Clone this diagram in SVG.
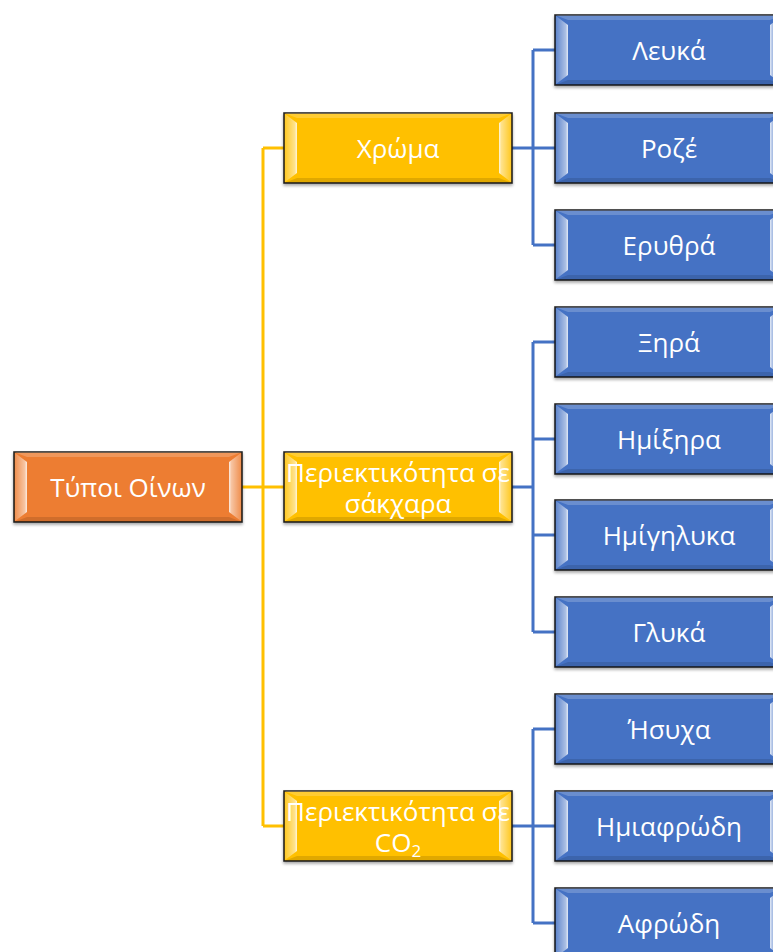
<svg xmlns="http://www.w3.org/2000/svg" xmlns:xlink="http://www.w3.org/1999/xlink" width="773" height="952" viewBox="0 0 773 952">
<style>
.box{stroke:#1a1a1a;stroke-width:1.5}
.root{fill:#ED7D31}
.mid{fill:#FFC000}
.leaf{fill:#4472C4}
.t{font-family:"Open Sans","Noto Sans","DejaVu Sans",sans-serif;font-size:26px;fill:#ffffff;text-anchor:middle;dominant-baseline:central}
.cy{stroke:#FFC000;stroke-width:3;fill:none}
.cb{stroke:#4472C4;stroke-width:3;fill:none}
</style>
<defs>
<linearGradient id="gl" x1="0" y1="0" x2="1" y2="0">
<stop offset="0" stop-color="#fff" stop-opacity="0.15"/>
<stop offset="0.8" stop-color="#fff" stop-opacity="0.55"/>
<stop offset="1" stop-color="#fff" stop-opacity="0.85"/>
</linearGradient>
<linearGradient id="gr" x1="1" y1="0" x2="0" y2="0">
<stop offset="0" stop-color="#fff" stop-opacity="0.15"/>
<stop offset="0.8" stop-color="#fff" stop-opacity="0.55"/>
<stop offset="1" stop-color="#fff" stop-opacity="0.85"/>
</linearGradient>
<g id="bevel">
<polygon points="0,0 228,0 215,5 13,5" fill="#fff" opacity="0.2"/>
<polygon points="0,70 228,70 215,65 13,65" fill="#000" opacity="0.12"/>
<polygon points="1,1 13,10 13,60 1,69" fill="url(#gl)"/>
<polygon points="227,1 215,10 215,60 227,69" fill="url(#gr)"/>
</g>
<filter id="sh" x="-5%" y="-10%" width="110%" height="130%">
<feDropShadow dx="0" dy="2" stdDeviation="1.5" flood-color="#000" flood-opacity="0.35"/>
</filter>
</defs>
<g id="connectors">
<path class="cy" d="M241,487H263M263,148V826M263,148H284M263,487H284M263,826H284"/>
<path class="cb" d="M512,148H533M533,50V245M533,50H555M533,148H555M533,245H555"/>
<path class="cb" d="M512,487H533M533,342V632M533,342H555M533,439H555M533,535H555M533,632H555"/>
<path class="cb" d="M512,826H533M533,729V923M533,729H555M533,826H555M533,923H555"/>
</g>
<g id="n-root" transform="translate(14,452)"><rect class="box root" width="228" height="70" filter="url(#sh)"/><use xlink:href="#bevel"/><text class="t" x="114" y="35">Τύποι Οίνων</text></g>
<g id="n-color" transform="translate(284,113)"><rect class="box mid" width="228" height="70" filter="url(#sh)"/><use xlink:href="#bevel"/><text class="t" x="114" y="35">Χρώμα</text></g>
<g id="n-sugar" transform="translate(284,452)"><rect class="box mid" width="228" height="70" filter="url(#sh)"/><use xlink:href="#bevel"/><text class="t" x="114" y="20"><tspan x="114" y="20">Περιεκτικότητα σε</tspan><tspan x="114" y="51">σάκχαρα</tspan></text></g>
<g id="n-co2" transform="translate(284,791)"><rect class="box mid" width="228" height="70" filter="url(#sh)"/><use xlink:href="#bevel"/><text class="t" x="114" y="20"><tspan x="114" y="20">Περιεκτικότητα σε</tspan><tspan x="114" y="51">CO</tspan><tspan font-size="17" dy="8">2</tspan></text></g>
<g id="n-white" transform="translate(555,15)"><rect class="box leaf" width="228" height="70" filter="url(#sh)"/><use xlink:href="#bevel"/><text class="t" x="114" y="35">Λευκά</text></g>
<g id="n-rose" transform="translate(555,113)"><rect class="box leaf" width="228" height="70" filter="url(#sh)"/><use xlink:href="#bevel"/><text class="t" x="114" y="35">Ροζέ</text></g>
<g id="n-red" transform="translate(555,210)"><rect class="box leaf" width="228" height="70" filter="url(#sh)"/><use xlink:href="#bevel"/><text class="t" x="114" y="35">Ερυθρά</text></g>
<g id="n-dry" transform="translate(555,307)"><rect class="box leaf" width="228" height="70" filter="url(#sh)"/><use xlink:href="#bevel"/><text class="t" x="114" y="35">Ξηρά</text></g>
<g id="n-semidry" transform="translate(555,404)"><rect class="box leaf" width="228" height="70" filter="url(#sh)"/><use xlink:href="#bevel"/><text class="t" x="114" y="35">Ημίξηρα</text></g>
<g id="n-semisweet" transform="translate(555,500)"><rect class="box leaf" width="228" height="70" filter="url(#sh)"/><use xlink:href="#bevel"/><text class="t" x="114" y="35">Ημίγηλυκα</text></g>
<g id="n-sweet" transform="translate(555,597)"><rect class="box leaf" width="228" height="70" filter="url(#sh)"/><use xlink:href="#bevel"/><text class="t" x="114" y="35">Γλυκά</text></g>
<g id="n-still" transform="translate(555,694)"><rect class="box leaf" width="228" height="70" filter="url(#sh)"/><use xlink:href="#bevel"/><text class="t" x="114" y="35">Ήσυχα</text></g>
<g id="n-semisparkling" transform="translate(555,791)"><rect class="box leaf" width="228" height="70" filter="url(#sh)"/><use xlink:href="#bevel"/><text class="t" x="114" y="35">Ημιαφρώδη</text></g>
<g id="n-sparkling" transform="translate(555,888)"><rect class="box leaf" width="228" height="70" filter="url(#sh)"/><use xlink:href="#bevel"/><text class="t" x="114" y="35">Αφρώδη</text></g>
</svg>
